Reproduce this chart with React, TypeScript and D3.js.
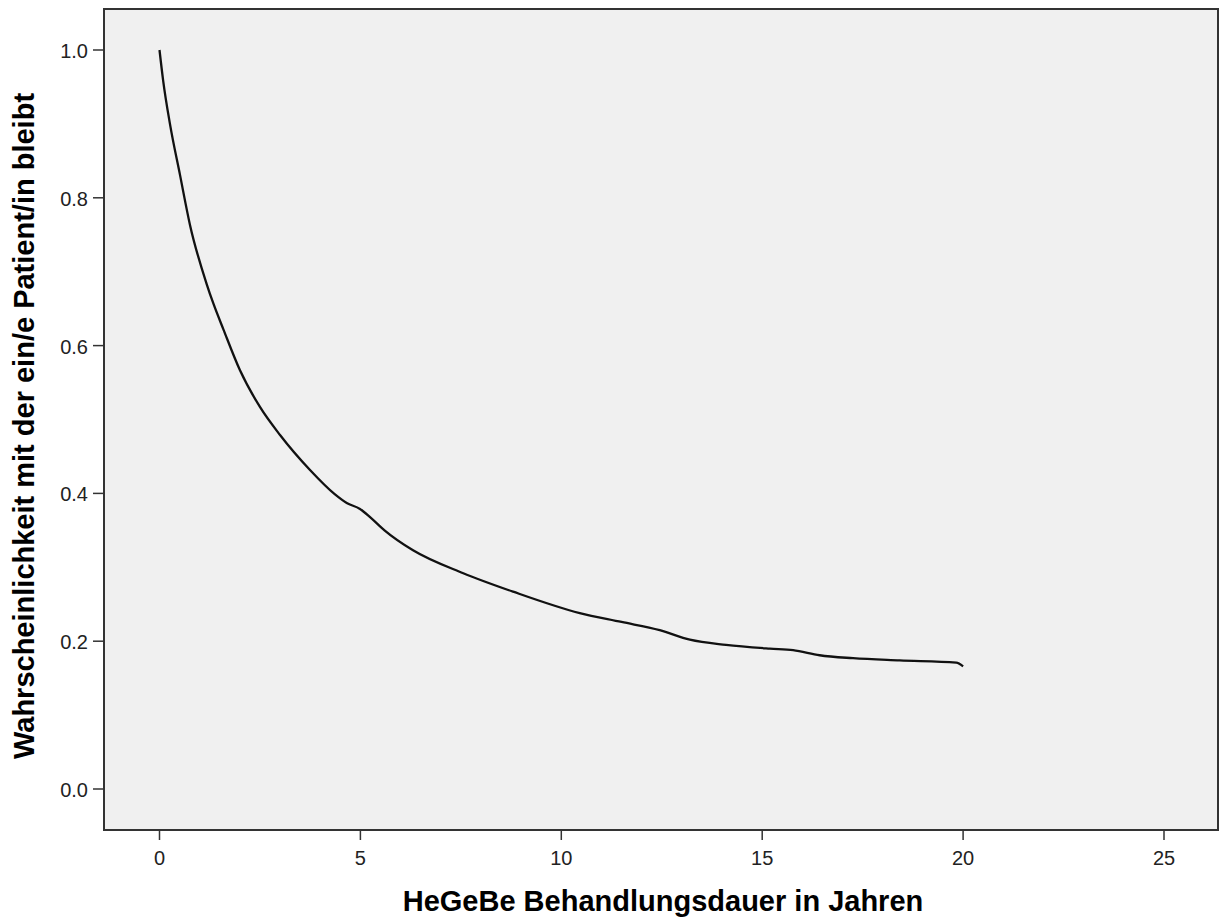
import React from "react";
import * as d3 from "d3";

const years = [0, 0.09, 0.26, 0.51, 0.76, 1.17, 1.34, 1.59, 2.0, 2.5, 3.0, 3.74, 4.36, 4.66, 4.99, 5.24, 5.6, 6.31, 7.56, 8.8, 10.46, 11.5, 12.45, 13.2, 14.1, 15.19, 15.77, 16.43, 17.26, 18.42, 19.83, 20.0];
const survival = [1.0, 0.959, 0.9, 0.831, 0.763, 0.684, 0.657, 0.622, 0.567, 0.517, 0.479, 0.432, 0.399, 0.387, 0.379, 0.368, 0.35, 0.323, 0.292, 0.267, 0.238, 0.226, 0.215, 0.202, 0.195, 0.19, 0.188, 0.181, 0.177, 0.174, 0.171, 0.166];
const xTicks = [0, 5, 10, 15, 20, 25];
const yTicks = [0, 0.2, 0.4, 0.6, 0.8, 1.0];
const xTitle = "HeGeBe Behandlungsdauer in Jahren";
const yTitle = "Wahrscheinlichkeit mit der ein/e Patient/in bleibt";

export default function App() {
  const W = 1221, H = 922;
  const left = 104, right = 1218, top = 9, bottom = 830;
  const x = d3.scaleLinear().domain([0, 25]).range([159.5, 1164]);
  const y = d3.scaleLinear().domain([0, 1]).range([789, 50]);
  const pts = years.map((t, i) => [t, survival[i]] as [number, number]);
  const line = d3.line<[number, number]>().x(d => x(d[0])).y(d => y(d[1])).curve(d3.curveMonotoneX);
  const font = "Arial, 'Liberation Sans', sans-serif";
  return (
    <svg width={W} height={H} style={{ position: "absolute", left: 0, top: 0, background: "#fff" }} fontFamily={font}>
      <rect x={left} y={top} width={right - left} height={bottom - top} fill="#f0f0f0" stroke="#333" strokeWidth={2} />
      {xTicks.map(t => (
        <g key={"x" + t}>
          <line x1={x(t)} x2={x(t)} y1={bottom} y2={bottom + 10} stroke="#333" strokeWidth={1.5} />
          <text x={x(t)} y={865} textAnchor="middle" fontSize={20} fill="#222">{t}</text>
        </g>
      ))}
      {yTicks.map(t => (
        <g key={"y" + t}>
          <line x1={left - 11} x2={left} y1={y(t)} y2={y(t)} stroke="#333" strokeWidth={1.5} />
          <text x={88} y={y(t) + 8} textAnchor="end" fontSize={20} fill="#222">{t.toFixed(1)}</text>
        </g>
      ))}
      <path d={line(pts) || ""} fill="none" stroke="#111" strokeWidth={2.3} />
      <text x={663} y={911} textAnchor="middle" fontSize={29} fontWeight="bold" fill="#000">{xTitle}</text>
      <text transform={`translate(34,426) rotate(-90)`} textAnchor="middle" fontSize={29} fontWeight="bold" fill="#000">{yTitle}</text>
    </svg>
  );
}
